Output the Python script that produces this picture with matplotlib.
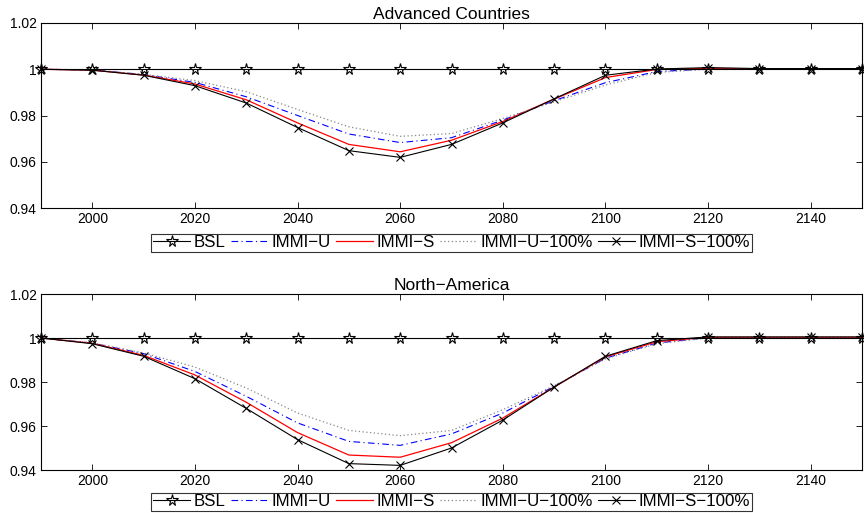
import matplotlib
matplotlib.use("Agg")
import matplotlib.pyplot as plt

plt.rcParams['font.family'] = ['Liberation Sans', 'DejaVu Sans']

years = [1990, 2000, 2010, 2020, 2030, 2040, 2050, 2060, 2070, 2080, 2090, 2100, 2110, 2120, 2130, 2140, 2150]
legend_labels = ['BSL', 'IMMI\u2212U', 'IMMI\u2212S', 'IMMI\u2212U\u2212100%', 'IMMI\u2212S\u2212100%']

adv_bsl = [1.0] * 17
adv_immi_u = [1.0, 0.9997, 0.9977, 0.9943, 0.9881, 0.9800, 0.9720, 0.9683, 0.9704, 0.9780, 0.9864, 0.9942, 0.9990, 1.0001, 1.0001, 1.0001, 1.0001]
adv_immi_s = [1.0, 0.9996, 0.9975, 0.9936, 0.9868, 0.9768, 0.9675, 0.9643, 0.9693, 0.9774, 0.9871, 0.9964, 0.9999, 1.0004, 1.0002, 1.0002, 1.0002]
adv_immi_u100 = [1.0, 0.9997, 0.9978, 0.9951, 0.9903, 0.9826, 0.9751, 0.9710, 0.9722, 0.9787, 0.9859, 0.9932, 0.9986, 1.0000, 1.0001, 1.0001, 1.0001]
adv_immi_s100 = [1.0, 0.9996, 0.9974, 0.9929, 0.9854, 0.9748, 0.9648, 0.9619, 0.9675, 0.9768, 0.9872, 0.9974, 1.0001, 1.0007, 1.0003, 1.0003, 1.0003]

na_bsl = [1.0] * 17
na_immi_u = [1.0, 0.9977, 0.9929, 0.9848, 0.9735, 0.9614, 0.9530, 0.9512, 0.9564, 0.9659, 0.9780, 0.9908, 0.9977, 1.0002, 1.0002, 1.0002, 1.0002]
na_immi_s = [1.0, 0.9976, 0.9921, 0.9832, 0.9708, 0.9570, 0.9468, 0.9458, 0.9524, 0.9636, 0.9777, 0.9914, 0.9983, 1.0003, 1.0003, 1.0003, 1.0003]
na_immi_u100 = [1.0, 0.9978, 0.9932, 0.9868, 0.9773, 0.9659, 0.9580, 0.9556, 0.9580, 0.9674, 0.9783, 0.9905, 0.9974, 1.0000, 1.0002, 1.0002, 1.0002]
na_immi_s100 = [1.0, 0.9974, 0.9917, 0.9815, 0.9680, 0.9538, 0.9429, 0.9421, 0.9500, 0.9627, 0.9777, 0.9917, 0.9988, 1.0005, 1.0005, 1.0005, 1.0005]

titles = ['Advanced Countries', 'North\u2212America']
xticks = [2000, 2020, 2040, 2060, 2080, 2100, 2120, 2140]
yticks = [0.94, 0.96, 0.98, 1.0, 1.02]
yticklabels = ['0.94', '0.96', '0.98', '1', '1.02']

panels = [
    [adv_bsl, adv_immi_u, adv_immi_s, adv_immi_u100, adv_immi_s100],
    [na_bsl, na_immi_u, na_immi_s, na_immi_u100, na_immi_s100],
]

styles = [
    dict(color='black', linestyle='-', marker='*', markersize=8.5, markerfacecolor='none', markeredgewidth=0.8, linewidth=0.8),
    dict(color='blue', linestyle=(0, (6, 3, 1, 3)), linewidth=0.8),
    dict(color='red', linestyle='-', linewidth=0.9),
    dict(color='#888888', linestyle=(0, (1, 2)), linewidth=0.9),
    dict(color='black', linestyle='-', marker='x', markersize=6, markeredgewidth=0.8, linewidth=0.8),
]

fig = plt.figure(figsize=(8.64, 5.13), dpi=100)
positions = [
    [41/864, 1-208/513, 821/864, 185/513],
    [41/864, 1-470/513, 821/864, 176/513],
]
anchors = [-0.138, -0.128]

for pos, data, title, anc in zip(positions, panels, titles, anchors):
    ax = fig.add_axes(pos)
    handles = []
    for series, st, lab in zip(data, styles, legend_labels):
        h, = ax.plot(years, series, label=lab, clip_on=False, **st)
        handles.append(h)
    handles[0].set_zorder(5)
    ax.set_xlim(1990, 2150)
    ax.set_ylim(0.94, 1.02)
    ax.set_xticks(xticks)
    ax.set_yticks(yticks)
    ax.set_yticklabels(yticklabels)
    ax.tick_params(direction='in', top=True, right=True, labelsize=10, length=4, width=0.6, pad=3)
    for sp in ax.spines.values():
        sp.set_linewidth(0.8)
    ax.set_title(title, fontsize=12.5, pad=3)
    leg = ax.legend(handles=handles, loc='upper center', bbox_to_anchor=(0.5, anc), ncol=5,
                    fontsize=12.2, frameon=True, fancybox=False, edgecolor='black',
                    handlelength=2.2, handletextpad=0.2, columnspacing=0.3,
                    borderpad=0.1, borderaxespad=0)
    leg.get_frame().set_linewidth(0.8)

fig.savefig('out.png', dpi=100)
